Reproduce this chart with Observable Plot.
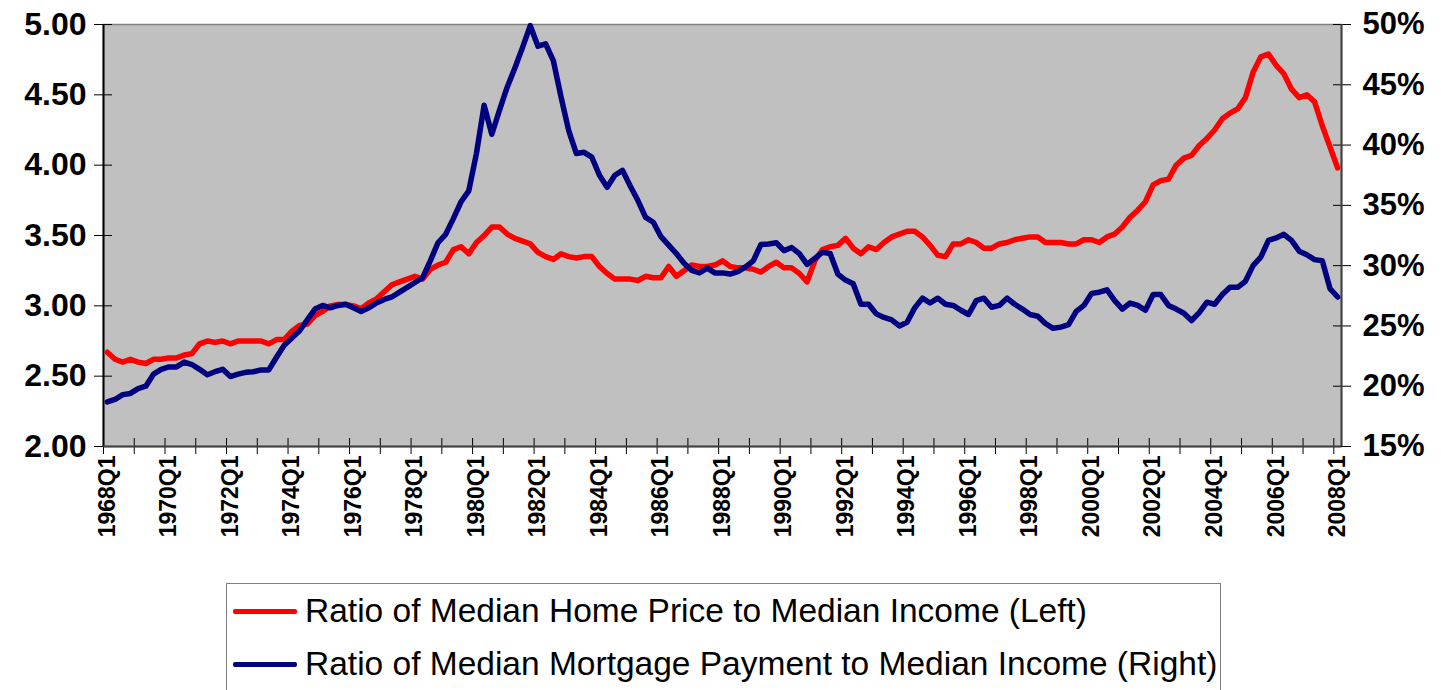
<!DOCTYPE html>
<html>
<head>
<meta charset="utf-8">
<script src="https://cdn.jsdelivr.net/npm/d3@7"></script>
<script src="https://cdn.jsdelivr.net/npm/@observablehq/plot@0.6"></script>
<style>
  html, body { margin: 0; padding: 0; background: #fff; overflow: hidden; }
  body { width: 1441px; height: 690px; position: relative; font-family: "Liberation Sans", Arial, sans-serif; }
  #chart { position: absolute; left: 0; top: 0; }
  #legend { position: absolute; left: 226px; top: 583px; width: 995px; height: 140px; border: 1px solid #808080; box-sizing: border-box; background: #fff; }
  .item { position: absolute; left: 6px; display: flex; align-items: center; font-size: 33.5px; color: #000; white-space: nowrap; }
  .swatch { width: 64px; height: 5px; margin-right: 8px; border-radius: 2px; }
</style>
</head>
<body>
<div id="chart"></div>
<div id="legend"></div>
<script>
// ---- data (quarterly, 1968Q1 .. 2008Q1) ----
const startYear = 1968;
const seriesNames = [
  "Ratio of Median Home Price to Median Income (Left)",
  "Ratio of Median Mortgage Payment to Median Income (Right)"
];
const seriesColors = ["#ff0000", "#000080"];

const homePriceToIncome = [
  2.67,2.62,2.60,2.62,2.60,2.59,2.62,2.62,2.63,2.63,2.65,2.66,2.73,2.75,2.74,2.75,
  2.73,2.75,2.75,2.75,2.75,2.73,2.76,2.76,2.82,2.86,2.87,2.93,2.96,3.00,3.01,3.01,
  3.00,2.98,3.02,3.05,3.10,3.15,3.17,3.19,3.21,3.19,3.26,3.29,3.31,3.40,3.42,3.37,
  3.45,3.50,3.56,3.56,3.51,3.48,3.46,3.44,3.38,3.35,3.33,3.37,3.35,3.34,3.35,3.35,
  3.28,3.23,3.19,3.19,3.19,3.18,3.21,3.20,3.20,3.28,3.21,3.25,3.29,3.28,3.28,3.29,
  3.32,3.28,3.27,3.27,3.26,3.24,3.28,3.31,3.27,3.27,3.23,3.17,3.32,3.40,3.42,3.43,
  3.48,3.41,3.37,3.42,3.40,3.45,3.49,3.51,3.53,3.53,3.49,3.43,3.36,3.35,3.44,3.44,
  3.47,3.45,3.41,3.41,3.44,3.45,3.47,3.48,3.49,3.49,3.45,3.45,3.45,3.44,3.44,3.47,
  3.47,3.45,3.49,3.51,3.56,3.63,3.68,3.74,3.86,3.89,3.90,4.00,4.05,4.07,4.14,4.19,
  4.25,4.33,4.37,4.40,4.48,4.66,4.77,4.79,4.71,4.65,4.54,4.48,4.50,4.45,4.28,4.13,
  3.98
];

const mortgagePaymentPct = [
  18.7,18.9,19.3,19.4,19.8,20.0,21.0,21.4,21.6,21.6,22.0,21.8,21.4,20.95,21.2,21.4,
  20.8,21.0,21.15,21.2,21.35,21.35,22.4,23.4,24.0,24.6,25.5,26.4,26.7,26.5,26.7,26.8,
  26.5,26.2,26.5,26.9,27.2,27.4,27.8,28.2,28.6,29.0,30.4,31.9,32.6,33.9,35.3,36.2,
  39.3,43.3,40.9,42.9,44.8,46.4,48.1,49.9,48.2,48.4,47.0,44.0,41.2,39.3,39.4,39.0,
  37.5,36.5,37.5,37.9,36.6,35.4,34.0,33.6,32.4,31.7,31.0,30.2,29.6,29.4,29.8,29.4,
  29.4,29.3,29.5,29.9,30.4,31.75,31.8,31.9,31.25,31.5,31.0,30.1,30.6,31.1,31.0,29.3,
  28.8,28.5,26.8,26.8,26.0,25.7,25.5,25.0,25.3,26.5,27.3,26.9,27.3,26.8,26.7,26.3,
  25.95,27.1,27.3,26.55,26.7,27.3,26.8,26.4,25.95,25.8,25.2,24.8,24.9,25.1,26.2,26.7,
  27.7,27.8,28.0,27.1,26.4,26.9,26.7,26.3,27.6,27.6,26.7,26.4,26.05,25.45,26.1,26.97,
  26.8,27.6,28.2,28.2,28.7,30.0,30.7,32.1,32.3,32.6,32.1,31.2,30.9,30.5,30.4,28.1,
  27.4
];

const xTickLabels = ["1968Q1","1970Q1","1972Q1","1974Q1","1976Q1","1978Q1","1980Q1",
  "1982Q1","1984Q1","1986Q1","1988Q1","1990Q1","1992Q1","1994Q1","1996Q1","1998Q1",
  "2000Q1","2002Q1","2004Q1","2006Q1","2008Q1"];
const leftTicks = [2.00, 2.50, 3.00, 3.50, 4.00, 4.50, 5.00];
const rightTicks = [15, 20, 25, 30, 35, 40, 45, 50];

// ---- helpers ----
const leftDomain = [2, 5];
const rightDomain = [15, 50];
const toLeft = p => leftDomain[0] + (p - rightDomain[0]) / (rightDomain[1] - rightDomain[0]) * (leftDomain[1] - leftDomain[0]);
const fromLeft = v => rightDomain[0] + (v - leftDomain[0]) / (leftDomain[1] - leftDomain[0]) * (rightDomain[1] - rightDomain[0]);
const n = homePriceToIncome.length;
const quarterLabel = i => `${startYear + Math.floor(i / 4)}Q${(i % 4) + 1}`;
const labelIndex = xTickLabels.map(s => (parseInt(s) - startYear) * 4 + (parseInt(s.slice(5)) - 1));
const boundaryTicks = d3.range(-0.5, n - 0.5, 4);

const red = homePriceToIncome.map((v, i) => ({i, q: quarterLabel(i), v}));
const blue = mortgagePaymentPct.map((p, i) => ({i, q: quarterLabel(i), v: toLeft(p)}));

const font = `"Liberation Sans", Arial, sans-serif`;

const chart = Plot.plot({
  width: 1441,
  height: 560,
  marginTop: 24,
  marginBottom: 114,
  marginLeft: 103,
  marginRight: 100,
  x: {domain: [-0.5, n - 0.5], axis: null},
  y: {domain: leftDomain, axis: null},
  style: {fontFamily: font, background: "transparent", overflow: "visible", color: "#000"},
  marks: [
    Plot.frame({fill: "#c0c0c0", stroke: "#808080", strokeWidth: 1.5}),
    // x axis: crossing tick marks at category boundaries every 4 quarters
    Plot.axisX(boundaryTicks, {anchor: "bottom", tickSize: 8, tickFormat: () => "", label: null, stroke: "#000"}),
    Plot.axisX(boundaryTicks, {anchor: "bottom", tickSize: -8, tickFormat: () => "", label: null, stroke: "#000"}),
    Plot.axisX(labelIndex, {anchor: "bottom", tickSize: 0, tickPadding: 9, tickRotate: -90,
      tickFormat: (d) => xTickLabels[labelIndex.indexOf(d)], label: null,
      fontSize: 23, fontWeight: "bold"}),
    // left axis
    Plot.axisY(leftTicks, {anchor: "left", tickSize: 9, tickPadding: 8, tickFormat: d3.format(".2f"),
      label: null, fontSize: 32, fontWeight: "bold", stroke: "#000"}),
    Plot.axisY(leftTicks, {anchor: "left", tickSize: -9, tickFormat: () => "", label: null, stroke: "#000"}),
    // right axis (percent)
    Plot.axisY(rightTicks.map(toLeft), {anchor: "right", tickSize: 9, tickPadding: 12,
      tickFormat: d => Math.round(fromLeft(d)) + "%", label: null, fontSize: 31, fontWeight: "bold", stroke: "#000"}),
    Plot.axisY(rightTicks.map(toLeft), {anchor: "right", tickSize: -9, tickFormat: () => "", label: null, stroke: "#000"}),
    // axis lines
    Plot.ruleX([-0.5], {stroke: "#000", strokeWidth: 2}),
    Plot.ruleX([n - 0.5], {stroke: "#404040", strokeWidth: 2}),
    Plot.ruleY([leftDomain[0]], {stroke: "#404040", strokeWidth: 2}),
    // series
    Plot.line(red, {x: "i", y: "v", stroke: seriesColors[0], strokeWidth: 5.5, strokeLinejoin: "round", strokeLinecap: "round"}),
    Plot.line(blue, {x: "i", y: "v", stroke: seriesColors[1], strokeWidth: 5.5, strokeLinejoin: "round", strokeLinecap: "round"})
  ]
});
document.getElementById("chart").appendChild(chart);

// legend
const legend = document.getElementById("legend");
seriesNames.forEach((name, k) => {
  const item = document.createElement("div");
  item.className = "item";
  item.style.top = (k === 0 ? 8 : 61) + "px";
  item.innerHTML = `<span class="swatch" style="background:${seriesColors[k]}"></span><span>${name}</span>`;
  legend.appendChild(item);
});
</script>
</body>
</html>
